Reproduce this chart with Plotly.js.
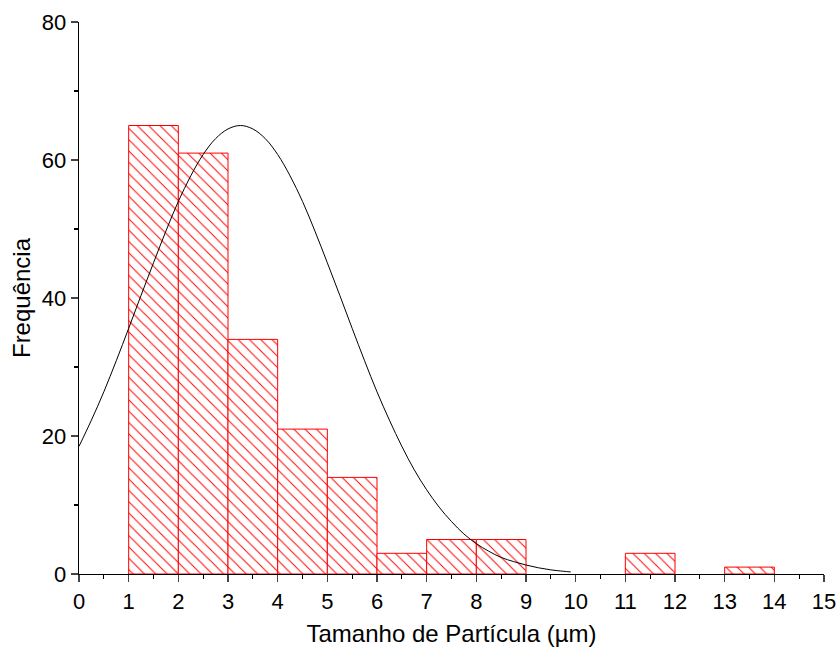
<!DOCTYPE html>
<html><head><meta charset="utf-8">
<script src="https://cdn.plot.ly/plotly-3.0.1.min.js"></script>
<style>body{margin:0;background:#fff}#c{width:840px;height:652px}</style>
</head><body><div id="c"></div>
<script>
const binCenters = [1.5, 2.5, 3.5, 4.5, 5.5, 6.5, 7.5, 8.5, 11.5, 13.5];
const binCounts = [65, 61, 34, 21, 14, 3, 5, 5, 3, 1];
const fitX = [0,0.25,0.5,0.75,1,1.25,1.5,1.75,2,2.25,2.5,2.75,3,3.25,3.5,3.75,4,4.25,4.5,4.75,5,5.25,5.5,5.75,6,6.25,6.5,6.75,7,7.25,7.5,7.75,8,8.25,8.5,8.75,9,9.25,9.5,9.75,9.9];
const fitY = [18.5,22.3,26.4,30.9,35.6,40.4,45.1,49.7,54.0,57.7,60.8,63.1,64.5,65,64.5,63.1,60.8,57.7,54.0,49.7,45.1,40.4,35.6,30.9,26.4,22.3,18.5,15.1,12.2,9.7,7.6,5.8,4.4,3.3,2.4,1.8,1.3,0.9,0.6,0.4,0.3];
const xTicks = [0,1,2,3,4,5,6,7,8,9,10,11,12,13,14,15];
const yTicks = [0,20,40,60,80];

const data = [
  {type:'bar', x:binCenters, y:binCounts, width:1,
   marker:{color:'#ffffff', line:{color:'#ff0000', width:1},
     pattern:{shape:'\\', fgcolor:'#ff0000', bgcolor:'#ffffff', size:8, solidity:0.12, fillmode:'replace'}},
   hoverinfo:'skip'},
  {type:'scatter', mode:'lines', x:fitX, y:fitY, line:{color:'#000000', width:1, shape:'spline'}, hoverinfo:'skip'}
];
const layout = {
  width:840, height:652, showlegend:false,
  margin:{l:79, r:16, t:22, b:78},
  paper_bgcolor:'#fff', plot_bgcolor:'#fff',
  font:{family:'Liberation Sans, Arial, sans-serif', size:22, color:'#000'},
  bargap:0,
  xaxis:{range:[0,15], tickvals:xTicks, ticktext:xTicks.map(String), ticks:'outside', ticklen:7, tickwidth:1.3,
    showline:true, linecolor:'#000', linewidth:1.3, showgrid:false, zeroline:false,
    minor:{tickvals:[0.5,1.5,2.5,3.5,4.5,5.5,6.5,7.5,8.5,9.5,10.5,11.5,12.5,13.5,14.5], ticks:'outside', ticklen:4, tickwidth:1.3, tickcolor:'#000'},
    title:{text:'Tamanho de Partícula (µm)', font:{size:24}, standoff:12}},
  yaxis:{range:[0,80], tickvals:yTicks, ticktext:yTicks.map(String), ticks:'outside', ticklen:7, tickwidth:1.3,
    showline:true, linecolor:'#000', linewidth:1.3, showgrid:false, zeroline:false,
    minor:{tickvals:[10,30,50,70], ticks:'outside', ticklen:4, tickwidth:1.3, tickcolor:'#000'},
    title:{text:'Frequência', font:{size:24}, standoff:4}}
};
Plotly.newPlot('c', data, layout, {displayModeBar:false, staticPlot:true});
</script></body></html>
